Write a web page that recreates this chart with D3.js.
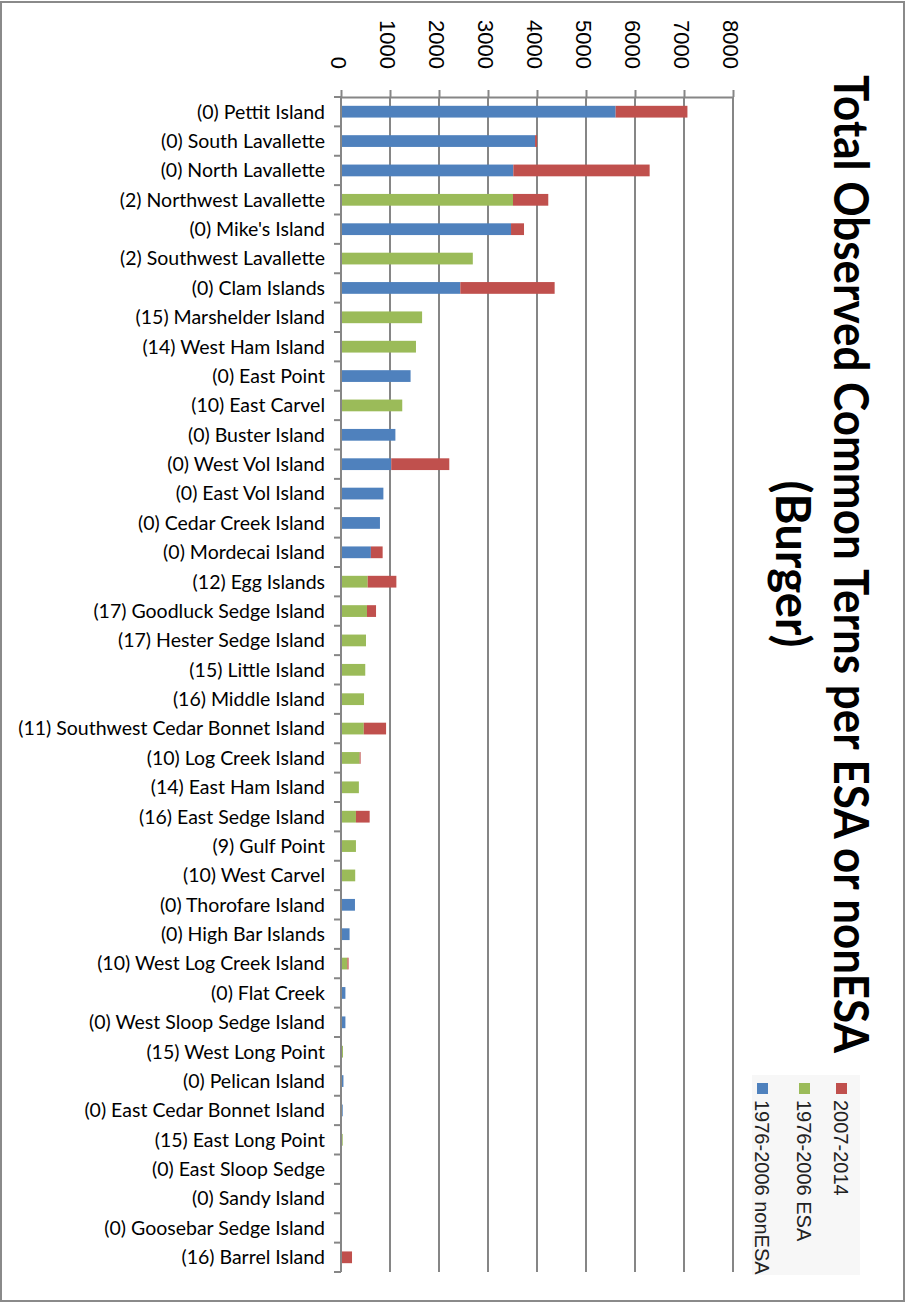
<!DOCTYPE html>
<html>
<head>
<meta charset="utf-8">
<script src="https://cdn.jsdelivr.net/npm/d3@7"></script>
<style>
  body { margin: 0; background: #fff; }
  .cat-label { font-family: Lato, "Open Sans", sans-serif; font-size: 19.5px; fill: #000; }
  .tick-label { font-family: "Liberation Sans", Arial, sans-serif; font-size: 22px; fill: #000; }
  .title { font-family: Lato, "Open Sans", sans-serif; font-weight: bold; font-size: 48px; fill: #000; }
  .legend-label { font-family: "Liberation Sans", Arial, sans-serif; font-size: 20px; fill: #222; }
</style>
</head>
<body>
<svg id="chart"></svg>
<script>
// island names, prefixed with ESA count
const categories = [
  '(0) Pettit Island', '(0) South Lavallette', '(0) North Lavallette', '(2) Northwest Lavallette',
  "(0) Mike's Island", '(2) Southwest Lavallette', '(0) Clam Islands', '(15) Marshelder Island',
  '(14) West Ham Island', '(0) East Point', '(10) East Carvel', '(0) Buster Island',
  '(0) West Vol Island', '(0) East Vol Island', '(0) Cedar Creek Island', '(0) Mordecai Island',
  '(12) Egg Islands', '(17) Goodluck Sedge Island', '(17) Hester Sedge Island', '(15) Little Island',
  '(16) Middle Island', '(11) Southwest Cedar Bonnet Island', '(10) Log Creek Island', '(14) East Ham Island',
  '(16) East Sedge Island', '(9) Gulf Point', '(10) West Carvel', '(0) Thorofare Island',
  '(0) High Bar Islands', '(10) West Log Creek Island', '(0) Flat Creek', '(0) West Sloop Sedge Island',
  '(15) West Long Point', '(0) Pelican Island', '(0) East Cedar Bonnet Island', '(15) East Long Point',
  '(0) East Sloop Sedge', '(0) Sandy Island', '(0) Goosebar Sedge Island', '(16) Barrel Island'
];

// 1976-2006 nonESA
const nonEsa = [
  5605, 3960, 3517, 0, 3470, 0, 2435, 0,
  0, 1420, 0, 1110, 1025, 865, 795, 610,
  0, 0, 0, 0, 0, 0, 0, 0,
  0, 0, 0, 285, 175, 0, 90, 90,
  0, 50, 35, 0, 0, 0, 0, 0
];

// 1976-2006 ESA
const esa = [
  0, 0, 0, 3510, 0, 2690, 0, 1655,
  1530, 0, 1250, 0, 0, 0, 0, 0,
  545, 530, 510, 495, 470, 465, 380, 365,
  305, 305, 290, 0, 0, 130, 0, 0,
  40, 0, 0, 35, 0, 0, 0, 0
];

// 2007-2014
const recent = [
  1465, 40, 2782, 720, 265, 0, 1925, 0,
  0, 0, 0, 0, 1185, 0, 0, 240,
  585, 185, 0, 0, 0, 455, 20, 0,
  280, 0, 0, 0, 0, 25, 0, 0,
  0, 0, 0, 0, 0, 0, 8, 225
];

const xTicks = [0, 1000, 2000, 3000, 4000, 5000, 6000, 7000, 8000];

const seriesNames = ['1976-2006 nonESA', '1976-2006 ESA', '2007-2014'];
const seriesColors = ['#4F81BD', '#9BBB59', '#C0504D'];

class StackedBars {
  constructor(_config) {
    this.config = {
      parentElement: _config.parentElement,
      containerWidth: 909,
      containerHeight: 1306,
      plot: { left: 341, right: 733, top: 97, bottom: 1272 },
      gridColor: '#868686'
    };
    this.initVis();
  }

  initVis() {
    let vis = this;
    const p = vis.config.plot;

    vis.svg = d3.select(vis.config.parentElement)
      .attr('width', vis.config.containerWidth)
      .attr('height', vis.config.containerHeight);

    // outer frame
    vis.svg.append('rect')
      .attr('x', 1).attr('y', 2)
      .attr('width', 903).attr('height', 1299)
      .attr('fill', '#fff')
      .attr('stroke', '#8a8a8a')
      .attr('stroke-width', 2);

    vis.xScale = d3.scaleLinear().domain([0, 8000]).range([p.left, p.right]);
    vis.yScale = d3.scaleBand().domain(categories).range([p.top, p.bottom])
      .paddingInner(0.6).paddingOuter(0.3);

    vis.gridG = vis.svg.append('g').attr('class', 'grid');
    vis.barsG = vis.svg.append('g').attr('class', 'bars');
    vis.axisG = vis.svg.append('g').attr('class', 'axes');
  }

  updateVis() {
    let vis = this;
    vis.rows = categories.map((c, i) => ({
      name: c,
      '1976-2006 nonESA': nonEsa[i],
      '1976-2006 ESA': esa[i],
      '2007-2014': recent[i]
    }));
    vis.stacked = d3.stack().keys(seriesNames)(vis.rows);
    vis.renderVis();
  }

  renderVis() {
    let vis = this;
    const p = vis.config.plot;
    const x = vis.xScale, y = vis.yScale;
    const grid = vis.config.gridColor;

    // vertical gridlines
    vis.gridG.selectAll('line')
      .data(xTicks)
      .join('line')
      .attr('x1', d => x(d)).attr('x2', d => x(d))
      .attr('y1', p.top).attr('y2', p.bottom)
      .attr('stroke', grid)
      .attr('stroke-width', 2);

    // stacked bars
    vis.barsG.selectAll('g.series')
      .data(vis.stacked)
      .join('g')
      .attr('class', 'series')
      .attr('fill', (d, i) => seriesColors[i])
      .selectAll('rect')
      .data(d => d)
      .join('rect')
      .attr('x', d => x(d[0]))
      .attr('width', d => x(d[1]) - x(d[0]))
      .attr('y', d => y(d.data.name))
      .attr('height', y.bandwidth());

    // value axis on top
    const xAxis = d3.axisTop(x).tickValues(xTicks).tickFormat(d3.format('d'))
      .tickSizeInner(7).tickSizeOuter(0);
    const xAxisG = vis.axisG.append('g')
      .attr('transform', `translate(0,${p.top})`)
      .call(xAxis);
    xAxisG.selectAll('path, line').attr('stroke', grid).attr('stroke-width', 2);
    xAxisG.selectAll('text')
      .attr('class', 'tick-label')
      .attr('x', 0).attr('y', 0)
      .attr('dy', '0.36em')
      .attr('text-anchor', 'end')
      .attr('transform', `translate(-3,${69 - p.top}) rotate(90)`);

    // category axis: line plus ticks on band boundaries
    const step = y.step();
    const edges = d3.range(categories.length + 1).map(i => p.top + i * step);
    vis.axisG.append('line')
      .attr('x1', p.left).attr('x2', p.left)
      .attr('y1', p.top).attr('y2', p.bottom)
      .attr('stroke', grid).attr('stroke-width', 2);
    vis.axisG.selectAll('line.cat-tick')
      .data(edges)
      .join('line')
      .attr('class', 'cat-tick')
      .attr('x1', p.left - 7).attr('x2', p.left)
      .attr('y1', d => d).attr('y2', d => d)
      .attr('stroke', grid).attr('stroke-width', 2);

    vis.axisG.selectAll('text.cat-label')
      .data(categories)
      .join('text')
      .attr('class', 'cat-label')
      .attr('x', p.left - 16)
      .attr('y', d => y(d) + y.bandwidth() / 2)
      .attr('dy', '0.35em')
      .attr('text-anchor', 'end')
      .text(d => d);

    // rotated title
    const titleLines = [
      { text: 'Total Observed Common Terns per ESA or nonESA', base: 834, len: 978 },
      { text: '(Burger)', base: 776, len: 167 }
    ];
    vis.svg.selectAll('text.title')
      .data(titleLines)
      .join('text')
      .attr('class', 'title')
      .attr('text-anchor', 'middle')
      .attr('textLength', d => d.len)
      .attr('lengthAdjust', 'spacingAndGlyphs')
      .attr('transform', d => `translate(${d.base},564) rotate(90)`)
      .text(d => d.text);

    // legend (rotated, bottom right)
    const legendItems = [
      { name: '2007-2014', color: seriesColors[2], base: 834 },
      { name: '1976-2006 ESA', color: seriesColors[1], base: 797 },
      { name: '1976-2006 nonESA', color: seriesColors[0], base: 755 }
    ];
    const legend = vis.svg.append('g').attr('class', 'legend');
    legend.append('rect')
      .attr('x', 752).attr('y', 1075)
      .attr('width', 108).attr('height', 200)
      .attr('fill', '#f7f7f7');
    legend.selectAll('rect.swatch')
      .data(legendItems)
      .join('rect')
      .attr('class', 'swatch')
      .attr('x', d => d.base + 2).attr('y', 1083)
      .attr('width', 11).attr('height', 11)
      .attr('fill', d => d.color);
    legend.selectAll('text')
      .data(legendItems)
      .join('text')
      .attr('class', 'legend-label')
      .attr('transform', d => `translate(${d.base},1100) rotate(90)`)
      .text(d => d.name);
  }
}

const chart = new StackedBars({ parentElement: '#chart' });
chart.updateVis();
</script>
</body>
</html>
